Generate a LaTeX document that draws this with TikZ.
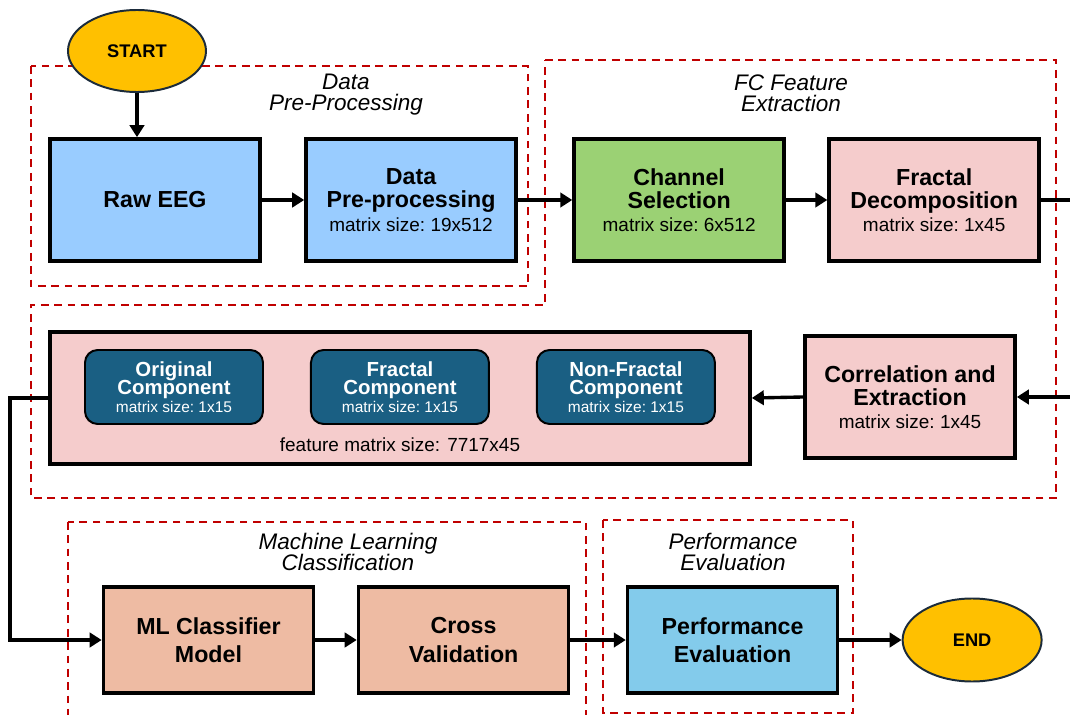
\documentclass[tikz,border=0pt]{standalone}
\usepackage{fontspec}
\setmainfont{Liberation Sans}
\setsansfont{Liberation Sans}
\usetikzlibrary{positioning, arrows.meta, calc, shapes.geometric}

\definecolor{startgold}{HTML}{FFC000}
\definecolor{termnavy}{HTML}{1B2B3B}
\definecolor{rawblue}{HTML}{99CCFF}
\definecolor{chgreen}{HTML}{9BD174}
\definecolor{fcpink}{HTML}{F5CCCC}
\definecolor{compblue}{HTML}{1A5F83}
\definecolor{mlsalmon}{HTML}{EEBBA3}
\definecolor{perfblue}{HTML}{83CBEB}
\definecolor{regred}{HTML}{C00000}

\newcommand{\boxtitle}{\fontsize{16.5}{16.5}\selectfont\bfseries}
\newcommand{\rowtitle}{\fontsize{16.5}{20}\selectfont\bfseries}
\newcommand{\matsize}{\fontsize{13.5}{16.5}\selectfont}
\newcommand{\comptitle}{\fontsize{14.5}{13}\selectfont\bfseries}
\newcommand{\compsize}{\fontsize{11}{13}\selectfont}
\newcommand{\regtitle}{\fontsize{16}{15}\selectfont\itshape}
\newcommand{\tightlines}{\setlength{\lineskiplimit}{-20pt}}

\begin{document}
\begin{tikzpicture}[
  node distance=1.15cm,
  align=center,
  font=\sffamily\frenchspacing,
  % Process blocks
  stage/.style={draw, rectangle, line width=2.6pt, minimum width=5.25cm, minimum height=3.05cm, inner sep=2pt,
    font=\sffamily\frenchspacing\fontsize{16.5}{16.5}\selectfont},
  comp/.style={draw, rectangle, rounded corners=9pt, line width=1.4pt, fill=compblue, text=white, minimum width=4.45cm, minimum height=1.85cm, inner sep=1pt,
    font=\sffamily\frenchspacing\fontsize{14.5}{13}\selectfont\tightlines},
  term/.style={draw=termnavy, ellipse, line width=1.4pt, fill=startgold, font=\sffamily\bfseries\fontsize{13}{15}\selectfont},
  % Dashed stage regions
  region/.style={draw=regred, dash pattern=on 5.5pt off 4pt, line width=1.3pt},
  % Arrows
  line/.style={draw, -{Triangle[length=3mm, width=3.6mm]}, line width=2.4pt}
]

  \useasboundingbox (0,0) rectangle (26.75,-17.875);
  \clip (0,0) rectangle (26.75,-17.875);

  % ==========================================
  % STAGE REGIONS
  % ==========================================
  \draw[region] (0.775,-1.65) rectangle (13.2,-7.15);
  \draw[region] (13.625,-1.5) -- (26.4,-1.5) -- (26.4,-12.45) -- (0.775,-12.45) -- (0.775,-7.625) -- (13.625,-7.625) -- cycle;
  \draw[region] (1.7,-13.05) rectangle (14.65,-18.2);
  \draw[region] (15.075,-13.0) rectangle (21.325,-17.825);

  \node[font=\regtitle] (lblpre) at (8.65,-2.375) {Data\\Pre-Processing};
  \node[font=\regtitle] (lblfc) at (19.775,-2.325) {FC Feature\\Extraction};
  \node[font=\regtitle] (lblml) at (8.7,-13.8) {Machine Learning\\Classification};
  \node[font=\regtitle] (lblperf) at (18.325,-13.8) {Performance\\Evaluation};

  % ==========================================
  % ROW 1: INPUT AND PRE-PROCESSING
  % ==========================================
  \node[term, minimum width=3.45cm, minimum height=2.05cm] (start) at (3.425,-1.275) {START};

  \node[stage, fill=rawblue, font=\boxtitle] (raw) at (3.875,-5.0) {Raw EEG};
  \node[stage, fill=rawblue, right=1.06cm of raw] (prep) {\boxtitle Data\\\boxtitle Pre-processing\\\matsize matrix size: 19x512};
  \node[stage, fill=chgreen, right=1.36cm of prep] (chan) {\boxtitle Channel\\\boxtitle Selection\\\matsize matrix size: 6x512};
  \node[stage, fill=fcpink, right=1.035cm of chan] (fract) {\boxtitle Fractal\\\boxtitle Decomposition\\\matsize matrix size: 1x45};

  % ==========================================
  % ROW 2: FEATURES
  % ==========================================
  \node[stage, fill=fcpink] (corr) at (22.75,-9.925) {\boxtitle Correlation and\\\boxtitle Extraction\\\matsize matrix size: 1x45};

  \node[stage, fill=fcpink, minimum width=17.5cm, minimum height=3.3cm] (feat) at (10.0,-9.95) {};
  \node[comp] (orig) at (4.35,-9.675) {\comptitle Original\\\comptitle Component\\\compsize matrix size: 1x15};
  \node[comp, right=1.15cm of orig] (fraccomp) {\comptitle Fractal\\\comptitle Component\\\compsize matrix size: 1x15};
  \node[comp, right=1.15cm of fraccomp] (nonfrac) {\comptitle Non-Fractal\\\comptitle Component\\\compsize matrix size: 1x15};
  \node[font=\matsize] (featsize) at (10.0,-11.125) {feature matrix size: 7717x45};

  % ==========================================
  % ROW 3: CLASSIFICATION AND EVALUATION
  % ==========================================
  \node[stage, fill=mlsalmon, minimum height=2.65cm, font=\rowtitle] (ml) at (5.2125,-16.0) {ML Classifier\\Model};
  \node[stage, fill=mlsalmon, minimum height=2.65cm, font=\rowtitle, right=1.035cm of ml] (cv) {Cross\\Validation};
  \node[stage, fill=perfblue, minimum height=2.65cm, font=\rowtitle, right=1.385cm of cv] (perf) {Performance\\Evaluation};
  \node[term, minimum width=3.475cm, minimum height=2.075cm, right=1.555cm of perf] (end) {END};

  % Connections
  \draw[line] (start.south) -- (start.south |- raw.north);
  \draw[line] (raw.east) -- (prep.west);
  \draw[line] (prep.east) -- (chan.west);
  \draw[line] (chan.east) -- (fract.west);
  \draw[line] (fract.east) -- ++(1.5,0) |- (corr.east);
  \draw[line] (corr.west) -- (feat.east);
  \draw[line] (feat.west) -- ++(-0.95,0) |- (ml.west);
  \draw[line] (ml.east) -- (cv.west);
  \draw[line] (cv.east) -- (perf.west);
  \draw[line] (perf.east) -- (end.west);

\end{tikzpicture}
\end{document}
